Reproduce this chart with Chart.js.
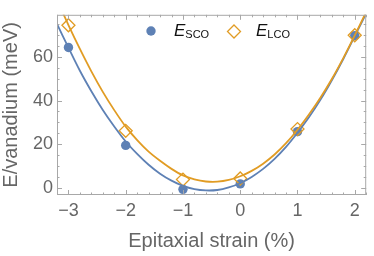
<!DOCTYPE html>
<html>
<head>
<meta charset="utf-8">
<script src="https://cdn.jsdelivr.net/npm/chart.js"></script>
<style>
  html, body { margin: 0; padding: 0; background: #fff; }
</style>
</head>
<body>
<canvas id="strainChart" width="374" height="256"></canvas>
<script>
// Computed energies per vanadium at each strain
const strain = [-3, -2, -1, 0, 1, 2];
const eSCO = [64.4, 19.4, -0.8, 1.7, 25.7, 69.8];
const eLCO = [74.6, 26.1, 3.7, 4.2, 26.9, 70.0];

// Fitted curves
const fitX = [-3.2, -3.0, -2.8, -2.6, -2.4, -2.2, -2.0, -1.8, -1.6, -1.4, -1.2, -1.0, -0.8, -0.6,
              -0.4, -0.2, 0, 0.2, 0.4, 0.6, 0.8, 1.0, 1.2, 1.4, 1.6, 1.8, 2.0, 2.2];
const fitSCO = [75.2, 64.3, 53.7, 44.3, 35.7, 28.1, 21.2, 15.5, 10.5, 6.4, 3.2, 0.8, -0.7, -1.3,
                -1.1, 0.1, 2.0, 4.9, 8.6, 13.2, 18.7, 25.2, 32.3, 40.3, 49.3, 59.1, 69.6, 80.0];
const fitLCO = [86.3, 74.7, 63.7, 53.4, 44.0, 35.6, 28.0, 21.8, 16.5, 12.3, 8.6, 5.6, 3.8, 2.8,
                2.7, 3.5, 5.2, 7.7, 11.0, 15.2, 20.4, 26.6, 33.6, 41.3, 49.9, 59.5, 69.9, 80.8];

// Axis ticks
const xTicks = [-3, -2, -1, 0, 1, 2];
const yTicks = [0, 20, 40, 60];

const blue = '#5E81B5';
const orange = '#E19C24';
const grey = '#666666';
const frameCol = '#a8a8a8';

const toXY = (xs, ys) => xs.map((x, i) => ({ x: x, y: ys[i] }));
const minus = v => String(v).replace('-', '\u2212');

// Mathematica-style frame with inward ticks on all four sides
const framePlugin = {
  id: 'frame',
  afterDatasetsDraw(chart) {
    const { ctx, chartArea: a, scales: { x, y } } = chart;
    ctx.save();
    ctx.strokeStyle = frameCol;
    ctx.lineWidth = 1;
    ctx.strokeRect(a.left + 0.5, a.top + 0.5, a.right - a.left - 1, a.bottom - a.top - 1);
    ctx.beginPath();
    for (let i = -16; i <= 11; i++) {
      const v = i / 5;
      const len = (i % 5 === 0) ? 5 : 2.5;
      const px = Math.round(x.getPixelForValue(v)) + 0.5;
      ctx.moveTo(px, a.bottom); ctx.lineTo(px, a.bottom - len);
      ctx.moveTo(px, a.top); ctx.lineTo(px, a.top + len);
    }
    for (let v = 0; v <= 75; v += 5) {
      const len = (v % 20 === 0) ? 5 : 2.5;
      const py = Math.round(y.getPixelForValue(v)) + 0.5;
      ctx.moveTo(a.left, py); ctx.lineTo(a.left + len, py);
      ctx.moveTo(a.right, py); ctx.lineTo(a.right - len, py);
    }
    ctx.stroke();
    ctx.restore();
  }
};

// Legend with subscripted labels
const keyPlugin = {
  id: 'key',
  afterDraw(chart) {
    const ctx = chart.ctx;
    ctx.save();
    const label = (sub, x0, base) => {
      ctx.fillStyle = '#111';
      ctx.textBaseline = 'alphabetic';
      ctx.textAlign = 'left';
      ctx.font = 'italic 17px "Liberation Sans", Arial, sans-serif';
      ctx.fillText('E', x0, base);
      const w = ctx.measureText('E').width;
      ctx.font = '11px "Liberation Sans", Arial, sans-serif';
      ctx.fillText(sub, x0 + w, base + 2);
    };
    ctx.fillStyle = blue;
    ctx.beginPath();
    ctx.arc(151, 31, 4.7, 0, Math.PI * 2);
    ctx.fill();
    label('SCO', 174, 35.5);

    ctx.strokeStyle = orange;
    ctx.lineWidth = 1.3;
    ctx.beginPath();
    ctx.moveTo(234, 31.5 - 6.5);
    ctx.lineTo(234 + 6.5, 31.5);
    ctx.lineTo(234, 31.5 + 6.5);
    ctx.lineTo(234 - 6.5, 31.5);
    ctx.closePath();
    ctx.stroke();
    label('LCO', 256, 35.5);
    ctx.restore();
  }
};

const tickFont = { family: '"Liberation Sans", Arial, sans-serif', size: 18 };
const titleFont = { family: '"Liberation Sans", Arial, sans-serif', size: 20 };

new Chart(document.getElementById('strainChart'), {
  type: 'scatter',
  data: {
    datasets: [
      {
        label: 'E_LCO fit', data: toXY(fitX, fitLCO), showLine: true,
        borderColor: orange, borderWidth: 1.8, pointRadius: 0, tension: 0.3, order: 0
      },
      {
        label: 'E_SCO fit', data: toXY(fitX, fitSCO), showLine: true,
        borderColor: blue, borderWidth: 1.8, pointRadius: 0, tension: 0.3, order: 1
      },
      {
        label: 'E_LCO', data: toXY(strain, eLCO), pointStyle: 'rectRot', pointRadius: 6.5,
        pointBorderWidth: 1.3, borderColor: orange, backgroundColor: 'rgba(0,0,0,0)', order: 2
      },
      {
        label: 'E_SCO', data: toXY(strain, eSCO), pointStyle: 'circle', pointRadius: 4.7,
        pointBorderWidth: 0, borderColor: blue, backgroundColor: blue, order: 3
      }
    ]
  },
  options: {
    responsive: false,
    animation: false,
    devicePixelRatio: 1,
    layout: { padding: { top: 1, right: 2, left: 0, bottom: 0 } },
    plugins: { legend: { display: false }, tooltip: { enabled: false } },
    scales: {
      x: {
        type: 'linear', min: -3.2, max: 2.2,
        afterBuildTicks: s => { s.ticks = xTicks.map(v => ({ value: v })); },
        afterFit: s => { s.height = 61; },
        grid: { display: false, drawTicks: false },
        border: { display: false },
        ticks: { padding: 5, color: grey, font: tickFont, callback: v => minus(v), maxRotation: 0 },
        title: { display: true, text: 'Epitaxial strain (%)', color: grey, font: titleFont,
                 padding: { top: 0, bottom: 3 } }
      },
      y: {
        type: 'linear', min: -3.4, max: 79.4,
        afterBuildTicks: s => { s.ticks = yTicks.map(v => ({ value: v })); },
        afterFit: s => { s.width = 57; },
        grid: { display: false, drawTicks: false },
        border: { display: false },
        ticks: { padding: 4, color: grey, font: tickFont, callback: v => minus(v) },
        title: { display: true, text: 'E/vanadium (meV)', color: grey,
                 font: Object.assign({ lineHeight: 1.1 }, titleFont), padding: { top: 0, bottom: 0 } }
      }
    }
  },
  plugins: [framePlugin, keyPlugin]
});
</script>
</body>
</html>
